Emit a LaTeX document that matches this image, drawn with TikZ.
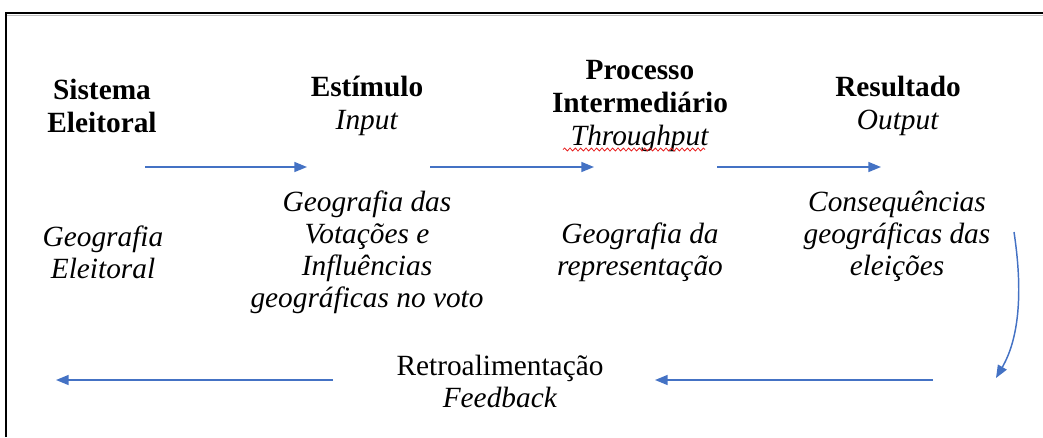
\documentclass[tikz,border=0pt]{standalone}
\usepackage{fontspec}
\setmainfont{LiberationSerif}[Extension=.ttf, UprightFont=*-Regular, BoldFont=*-Bold, ItalicFont=*-Italic, BoldItalicFont=*-BoldItalic]
\usetikzlibrary{arrows.meta,decorations.pathmorphing}
\definecolor{flowblue}{RGB}{68,114,196}
\definecolor{spellred}{RGB}{230,30,30}
\tikzset{every picture/.style={line width=0.75pt}}
\tikzset{
  head/.style={font=\fontsize{22}{24.5}\selectfont\bfseries, align=center, inner sep=0pt},
  desc/.style={font=\fontsize{22}{24}\selectfont\itshape, align=center, inner sep=0pt},
  plain/.style={font=\fontsize{22}{24}\selectfont, align=center, inner sep=0pt},
  flow/.style={draw=flowblue, line width=1.1pt, -{Triangle[length=9.5pt,width=7.5pt]}}
}
\begin{document}
\begin{tikzpicture}[x=0.75pt,y=0.75pt,yscale=-1,xscale=1]
\useasboundingbox (0,0) rectangle (1043,437);

%Frame
\draw [color={rgb, 255:red, 190; green, 190; blue, 190 }, line width=1pt] (7,15.5) -- (1043,15.5) ;
\draw [line width=1.6pt] (6,437) -- (6,13) -- (1043,13) ;

% Text Node
\node [head] (sis) at (102,106) {Sistema\\Eleitoral};
% Text Node
\node [head] (est) at (367,106) {Estímulo\\\textnormal{\itshape Input}};
% Text Node
\node [head] (proc) at (640,106) {Processo\\Intermediário\\\textnormal{\itshape Throughput}};
% Text Node
\node [head] (res) at (898,106) {Resultado\\\textnormal{\itshape Output}};

% Text Node
\node [desc] (geoel) at (103,252) {Geografia\\Eleitoral};
% Text Node
\node [desc] (geovot) at (367,252) {Geografia das\\Votações e\\Influências\\geográficas no voto};
% Text Node
\node [desc] (georep) at (640,252) {Geografia da\\representação};
% Text Node
\node [desc] (cons) at (897,236) {Consequências\\geográficas das\\eleições};
% Text Node
\node [plain] (retro) at (500,381) {Retroalimentação\\\textit{Feedback}};

%Spelling mark
\coordinate (spA) at (563,149.5) ;
\coordinate (spB) at (705,149.5) ;
\draw [spellred, line width=0.6pt, decorate, decoration={snake, amplitude=1.1, segment length=4}] (spA) -- (spB) ;

%Straight Lines
\coordinate (a1s) at (145,167) ;
\coordinate (a1e) at (307,167) ;
\draw [flow] (a1s) -- (a1e) ;
%Straight Lines
\coordinate (a2s) at (430,167) ;
\coordinate (a2e) at (594,167) ;
\draw [flow] (a2s) -- (a2e) ;
%Straight Lines
\coordinate (a3s) at (717,167) ;
\coordinate (a3e) at (881,167) ;
\draw [flow] (a3s) -- (a3e) ;

%Curve Lines
\coordinate (cs) at (1014,232) ;
\coordinate (ce) at (996,378) ;
\draw [flow] (cs) .. controls (1022,285) and (1021,335) .. (ce) ;

%Straight Lines
\coordinate (b1s) at (933,380) ;
\coordinate (b1e) at (655,380) ;
\draw [flow] (b1s) -- (b1e) ;
%Straight Lines
\coordinate (b2s) at (333,380) ;
\coordinate (b2e) at (56,380) ;
\draw [flow] (b2s) -- (b2e) ;

\end{tikzpicture}
\end{document}
